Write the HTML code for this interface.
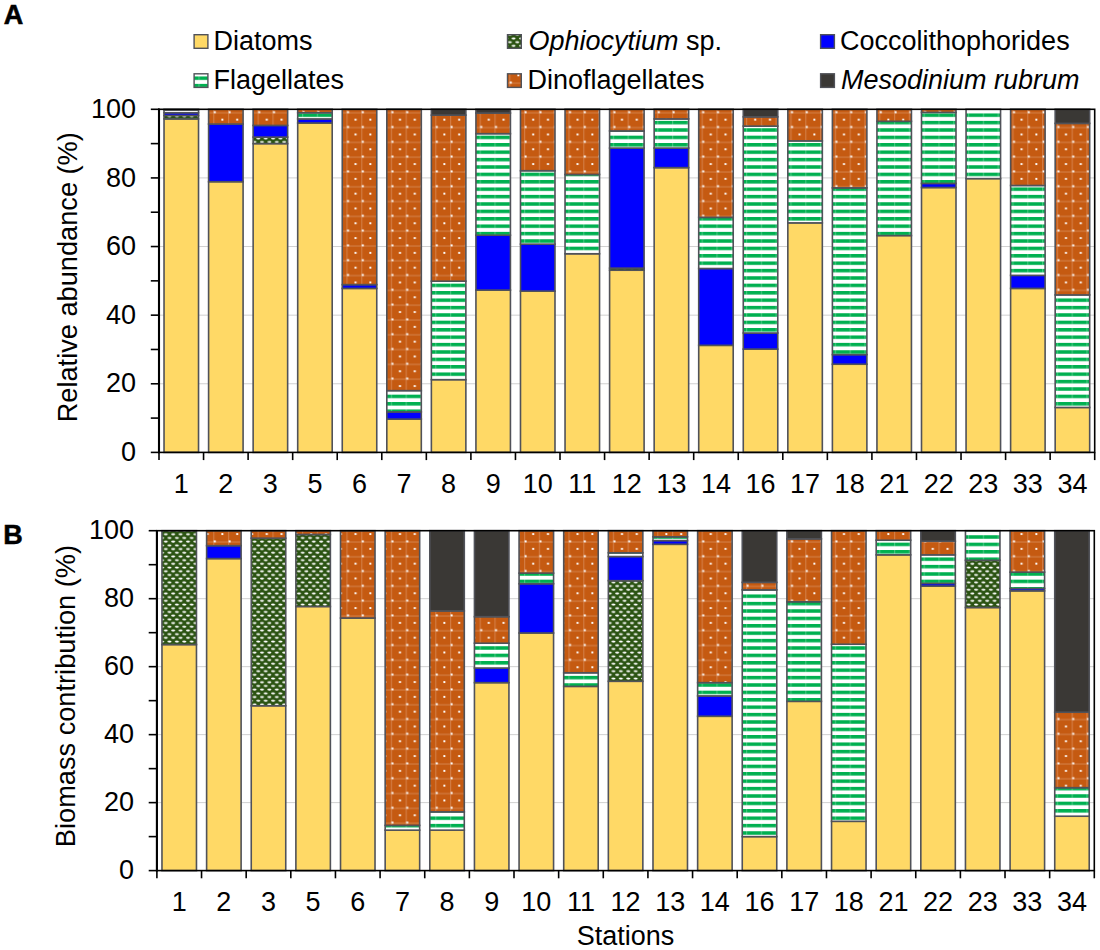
<!DOCTYPE html><html><head><meta charset="utf-8"><style>html,body{margin:0;padding:0;background:#fff;}svg{display:block;}</style></head><body>
<svg width="1100" height="950" viewBox="0 0 1100 950" font-family='"Liberation Sans", sans-serif' font-size="27" fill="#000">
<defs>
<pattern id="pDi" patternUnits="userSpaceOnUse" x="6.0" y="6.2" width="14.8" height="14.8"><rect width="14.8" height="14.8" fill="#C55A11"/><rect x="0" y="0" width="1.2" height="14.8" fill="#D27B42"/><rect x="0" y="2.4" width="14.8" height="1.2" fill="#D27B42"/><rect x="0.6" y="1.4" width="2" height="2" fill="#fff"/><rect x="8.2" y="8.8" width="2" height="2" rx="0.5" fill="#fff"/></pattern>
<pattern id="pF" patternUnits="userSpaceOnUse" x="6.0" y="2.45" width="14.8" height="7.4"><rect width="14.8" height="7.4" fill="#fff"/><rect y="0" width="14.8" height="3.5" fill="#00B050"/><rect x="0" y="0" width="1.2" height="3.5" fill="#fff" fill-opacity="0.25"/></pattern>
<pattern id="pO" patternUnits="userSpaceOnUse" x="0" y="0" width="7.4" height="7.4"><rect width="7.4" height="7.4" fill="#2B5312"/><ellipse cx="3.0" cy="1.5" rx="2.05" ry="0.95" fill="#fff"/><ellipse cx="6.7" cy="5.2" rx="2.05" ry="0.95" fill="#fff"/><ellipse cx="-0.7" cy="5.2" rx="2.05" ry="0.95" fill="#fff"/></pattern>
</defs>
<line x1="159" y1="383.78" x2="1094.7" y2="383.78" stroke="#D0D0D0" stroke-width="1"/>
<line x1="159" y1="315.16" x2="1094.7" y2="315.16" stroke="#D0D0D0" stroke-width="1"/>
<line x1="159" y1="246.54" x2="1094.7" y2="246.54" stroke="#D0D0D0" stroke-width="1"/>
<line x1="159" y1="177.92" x2="1094.7" y2="177.92" stroke="#D0D0D0" stroke-width="1"/>
<rect x="164.03" y="118.91" width="34.5" height="333.49" fill="#FFD966" stroke="#505259" stroke-width="1.6"/>
<rect x="164.03" y="115.48" width="34.5" height="3.43" fill="url(#pO)" stroke="#505259" stroke-width="1.6"/>
<rect x="164.03" y="112.73" width="34.5" height="2.74" fill="#0000FF" stroke="#505259" stroke-width="1.6"/>
<rect x="164.03" y="109.99" width="34.5" height="2.74" fill="url(#pF)" stroke="#505259" stroke-width="1.6"/>
<rect x="164.03" y="109.3" width="34.5" height="0.69" fill="#3A3835" stroke="#505259" stroke-width="1.6"/>
<rect x="208.59" y="181.69" width="34.5" height="270.71" fill="#FFD966" stroke="#505259" stroke-width="1.6"/>
<rect x="208.59" y="124.05" width="34.5" height="57.64" fill="#0000FF" stroke="#505259" stroke-width="1.6"/>
<rect x="208.59" y="109.3" width="34.5" height="14.75" fill="url(#pDi)" stroke="#505259" stroke-width="1.6"/>
<rect x="253.14" y="143.61" width="34.5" height="308.79" fill="#FFD966" stroke="#505259" stroke-width="1.6"/>
<rect x="253.14" y="137.09" width="34.5" height="6.52" fill="url(#pO)" stroke="#505259" stroke-width="1.6"/>
<rect x="253.14" y="125.43" width="34.5" height="11.67" fill="#0000FF" stroke="#505259" stroke-width="1.6"/>
<rect x="253.14" y="109.3" width="34.5" height="16.13" fill="url(#pDi)" stroke="#505259" stroke-width="1.6"/>
<rect x="297.7" y="123.02" width="34.5" height="329.38" fill="#FFD966" stroke="#505259" stroke-width="1.6"/>
<rect x="297.7" y="118.91" width="34.5" height="4.12" fill="#0000FF" stroke="#505259" stroke-width="1.6"/>
<rect x="297.7" y="112.73" width="34.5" height="6.18" fill="url(#pF)" stroke="#505259" stroke-width="1.6"/>
<rect x="297.7" y="109.3" width="34.5" height="3.43" fill="url(#pDi)" stroke="#505259" stroke-width="1.6"/>
<rect x="342.26" y="288.4" width="34.5" height="164" fill="#FFD966" stroke="#505259" stroke-width="1.6"/>
<rect x="342.26" y="284.62" width="34.5" height="3.77" fill="#0000FF" stroke="#505259" stroke-width="1.6"/>
<rect x="342.26" y="109.3" width="34.5" height="175.32" fill="url(#pDi)" stroke="#505259" stroke-width="1.6"/>
<rect x="386.81" y="419.12" width="34.5" height="33.28" fill="#FFD966" stroke="#505259" stroke-width="1.6"/>
<rect x="386.81" y="411.91" width="34.5" height="7.21" fill="#0000FF" stroke="#505259" stroke-width="1.6"/>
<rect x="386.81" y="390.64" width="34.5" height="21.27" fill="url(#pF)" stroke="#505259" stroke-width="1.6"/>
<rect x="386.81" y="109.3" width="34.5" height="281.34" fill="url(#pDi)" stroke="#505259" stroke-width="1.6"/>
<rect x="431.37" y="379.66" width="34.5" height="72.74" fill="#FFD966" stroke="#505259" stroke-width="1.6"/>
<rect x="431.37" y="281.19" width="34.5" height="98.47" fill="url(#pF)" stroke="#505259" stroke-width="1.6"/>
<rect x="431.37" y="115.13" width="34.5" height="166.06" fill="url(#pDi)" stroke="#505259" stroke-width="1.6"/>
<rect x="431.37" y="109.3" width="34.5" height="5.83" fill="#3A3835" stroke="#505259" stroke-width="1.6"/>
<rect x="475.93" y="290.11" width="34.5" height="162.29" fill="#FFD966" stroke="#505259" stroke-width="1.6"/>
<rect x="475.93" y="235.22" width="34.5" height="54.9" fill="#0000FF" stroke="#505259" stroke-width="1.6"/>
<rect x="475.93" y="133.66" width="34.5" height="101.56" fill="url(#pF)" stroke="#505259" stroke-width="1.6"/>
<rect x="475.93" y="113.07" width="34.5" height="20.59" fill="url(#pDi)" stroke="#505259" stroke-width="1.6"/>
<rect x="475.93" y="109.3" width="34.5" height="3.77" fill="#3A3835" stroke="#505259" stroke-width="1.6"/>
<rect x="520.49" y="291.14" width="34.5" height="161.26" fill="#FFD966" stroke="#505259" stroke-width="1.6"/>
<rect x="520.49" y="244.14" width="34.5" height="47" fill="#0000FF" stroke="#505259" stroke-width="1.6"/>
<rect x="520.49" y="170.71" width="34.5" height="73.42" fill="url(#pF)" stroke="#505259" stroke-width="1.6"/>
<rect x="520.49" y="109.3" width="34.5" height="61.41" fill="url(#pDi)" stroke="#505259" stroke-width="1.6"/>
<rect x="565.04" y="253.75" width="34.5" height="198.65" fill="#FFD966" stroke="#505259" stroke-width="1.6"/>
<rect x="565.04" y="174.49" width="34.5" height="79.26" fill="url(#pF)" stroke="#505259" stroke-width="1.6"/>
<rect x="565.04" y="109.3" width="34.5" height="65.19" fill="url(#pDi)" stroke="#505259" stroke-width="1.6"/>
<rect x="609.6" y="270.21" width="34.5" height="182.19" fill="#FFD966" stroke="#505259" stroke-width="1.6"/>
<rect x="609.6" y="268.16" width="34.5" height="2.06" fill="url(#pO)" stroke="#505259" stroke-width="1.6"/>
<rect x="609.6" y="148.07" width="34.5" height="120.09" fill="#0000FF" stroke="#505259" stroke-width="1.6"/>
<rect x="609.6" y="130.92" width="34.5" height="17.15" fill="url(#pF)" stroke="#505259" stroke-width="1.6"/>
<rect x="609.6" y="109.3" width="34.5" height="21.62" fill="url(#pDi)" stroke="#505259" stroke-width="1.6"/>
<rect x="654.16" y="167.63" width="34.5" height="284.77" fill="#FFD966" stroke="#505259" stroke-width="1.6"/>
<rect x="654.16" y="148.07" width="34.5" height="19.56" fill="#0000FF" stroke="#505259" stroke-width="1.6"/>
<rect x="654.16" y="118.91" width="34.5" height="29.16" fill="url(#pF)" stroke="#505259" stroke-width="1.6"/>
<rect x="654.16" y="109.3" width="34.5" height="9.61" fill="url(#pDi)" stroke="#505259" stroke-width="1.6"/>
<rect x="698.71" y="345.35" width="34.5" height="107.05" fill="#FFD966" stroke="#505259" stroke-width="1.6"/>
<rect x="698.71" y="268.5" width="34.5" height="76.85" fill="#0000FF" stroke="#505259" stroke-width="1.6"/>
<rect x="698.71" y="217.38" width="34.5" height="51.12" fill="url(#pF)" stroke="#505259" stroke-width="1.6"/>
<rect x="698.71" y="109.3" width="34.5" height="108.08" fill="url(#pDi)" stroke="#505259" stroke-width="1.6"/>
<rect x="743.27" y="349.13" width="34.5" height="103.27" fill="#FFD966" stroke="#505259" stroke-width="1.6"/>
<rect x="743.27" y="333" width="34.5" height="16.13" fill="#0000FF" stroke="#505259" stroke-width="1.6"/>
<rect x="743.27" y="126.11" width="34.5" height="206.89" fill="url(#pF)" stroke="#505259" stroke-width="1.6"/>
<rect x="743.27" y="116.85" width="34.5" height="9.26" fill="url(#pDi)" stroke="#505259" stroke-width="1.6"/>
<rect x="743.27" y="109.3" width="34.5" height="7.55" fill="#3A3835" stroke="#505259" stroke-width="1.6"/>
<rect x="787.83" y="222.87" width="34.5" height="229.53" fill="#FFD966" stroke="#505259" stroke-width="1.6"/>
<rect x="787.83" y="140.87" width="34.5" height="82" fill="url(#pF)" stroke="#505259" stroke-width="1.6"/>
<rect x="787.83" y="109.3" width="34.5" height="31.57" fill="url(#pDi)" stroke="#505259" stroke-width="1.6"/>
<rect x="832.39" y="364.22" width="34.5" height="88.18" fill="#FFD966" stroke="#505259" stroke-width="1.6"/>
<rect x="832.39" y="354.62" width="34.5" height="9.61" fill="#0000FF" stroke="#505259" stroke-width="1.6"/>
<rect x="832.39" y="187.87" width="34.5" height="166.75" fill="url(#pF)" stroke="#505259" stroke-width="1.6"/>
<rect x="832.39" y="109.3" width="34.5" height="78.57" fill="url(#pDi)" stroke="#505259" stroke-width="1.6"/>
<rect x="876.94" y="235.56" width="34.5" height="216.84" fill="#FFD966" stroke="#505259" stroke-width="1.6"/>
<rect x="876.94" y="121.31" width="34.5" height="114.25" fill="url(#pF)" stroke="#505259" stroke-width="1.6"/>
<rect x="876.94" y="109.3" width="34.5" height="12.01" fill="url(#pDi)" stroke="#505259" stroke-width="1.6"/>
<rect x="921.5" y="187.53" width="34.5" height="264.87" fill="#FFD966" stroke="#505259" stroke-width="1.6"/>
<rect x="921.5" y="183.41" width="34.5" height="4.12" fill="#0000FF" stroke="#505259" stroke-width="1.6"/>
<rect x="921.5" y="112.39" width="34.5" height="71.02" fill="url(#pF)" stroke="#505259" stroke-width="1.6"/>
<rect x="921.5" y="109.3" width="34.5" height="3.09" fill="url(#pDi)" stroke="#505259" stroke-width="1.6"/>
<rect x="966.06" y="178.61" width="34.5" height="273.79" fill="#FFD966" stroke="#505259" stroke-width="1.6"/>
<rect x="966.06" y="109.3" width="34.5" height="69.31" fill="url(#pF)" stroke="#505259" stroke-width="1.6"/>
<rect x="1010.61" y="288.4" width="34.5" height="164" fill="#FFD966" stroke="#505259" stroke-width="1.6"/>
<rect x="1010.61" y="275.36" width="34.5" height="13.04" fill="#0000FF" stroke="#505259" stroke-width="1.6"/>
<rect x="1010.61" y="185.47" width="34.5" height="89.89" fill="url(#pF)" stroke="#505259" stroke-width="1.6"/>
<rect x="1010.61" y="109.3" width="34.5" height="76.17" fill="url(#pDi)" stroke="#505259" stroke-width="1.6"/>
<rect x="1055.17" y="407.45" width="34.5" height="44.95" fill="#FFD966" stroke="#505259" stroke-width="1.6"/>
<rect x="1055.17" y="294.92" width="34.5" height="112.54" fill="url(#pF)" stroke="#505259" stroke-width="1.6"/>
<rect x="1055.17" y="123.37" width="34.5" height="171.55" fill="url(#pDi)" stroke="#505259" stroke-width="1.6"/>
<rect x="1055.17" y="109.3" width="34.5" height="14.07" fill="#3A3835" stroke="#505259" stroke-width="1.6"/>
<rect x="159" y="109.3" width="935.7" height="343.1" fill="none" stroke="#000" stroke-width="1.6"/>
<line x1="159" y1="108.5" x2="159" y2="453.2" stroke="#000" stroke-width="2.1"/>
<line x1="150.8" y1="452.4" x2="159" y2="452.4" stroke="#000" stroke-width="1.6"/>
<line x1="150.8" y1="418.09" x2="159" y2="418.09" stroke="#000" stroke-width="1.6"/>
<line x1="150.8" y1="383.78" x2="159" y2="383.78" stroke="#000" stroke-width="1.6"/>
<line x1="150.8" y1="349.47" x2="159" y2="349.47" stroke="#000" stroke-width="1.6"/>
<line x1="150.8" y1="315.16" x2="159" y2="315.16" stroke="#000" stroke-width="1.6"/>
<line x1="150.8" y1="280.85" x2="159" y2="280.85" stroke="#000" stroke-width="1.6"/>
<line x1="150.8" y1="246.54" x2="159" y2="246.54" stroke="#000" stroke-width="1.6"/>
<line x1="150.8" y1="212.23" x2="159" y2="212.23" stroke="#000" stroke-width="1.6"/>
<line x1="150.8" y1="177.92" x2="159" y2="177.92" stroke="#000" stroke-width="1.6"/>
<line x1="150.8" y1="143.61" x2="159" y2="143.61" stroke="#000" stroke-width="1.6"/>
<line x1="150.8" y1="109.3" x2="159" y2="109.3" stroke="#000" stroke-width="1.6"/>
<line x1="159" y1="452.4" x2="159" y2="460.1" stroke="#000" stroke-width="1.6"/>
<line x1="203.56" y1="452.4" x2="203.56" y2="460.1" stroke="#000" stroke-width="1.6"/>
<line x1="248.11" y1="452.4" x2="248.11" y2="460.1" stroke="#000" stroke-width="1.6"/>
<line x1="292.67" y1="452.4" x2="292.67" y2="460.1" stroke="#000" stroke-width="1.6"/>
<line x1="337.23" y1="452.4" x2="337.23" y2="460.1" stroke="#000" stroke-width="1.6"/>
<line x1="381.79" y1="452.4" x2="381.79" y2="460.1" stroke="#000" stroke-width="1.6"/>
<line x1="426.34" y1="452.4" x2="426.34" y2="460.1" stroke="#000" stroke-width="1.6"/>
<line x1="470.9" y1="452.4" x2="470.9" y2="460.1" stroke="#000" stroke-width="1.6"/>
<line x1="515.46" y1="452.4" x2="515.46" y2="460.1" stroke="#000" stroke-width="1.6"/>
<line x1="560.01" y1="452.4" x2="560.01" y2="460.1" stroke="#000" stroke-width="1.6"/>
<line x1="604.57" y1="452.4" x2="604.57" y2="460.1" stroke="#000" stroke-width="1.6"/>
<line x1="649.13" y1="452.4" x2="649.13" y2="460.1" stroke="#000" stroke-width="1.6"/>
<line x1="693.69" y1="452.4" x2="693.69" y2="460.1" stroke="#000" stroke-width="1.6"/>
<line x1="738.24" y1="452.4" x2="738.24" y2="460.1" stroke="#000" stroke-width="1.6"/>
<line x1="782.8" y1="452.4" x2="782.8" y2="460.1" stroke="#000" stroke-width="1.6"/>
<line x1="827.36" y1="452.4" x2="827.36" y2="460.1" stroke="#000" stroke-width="1.6"/>
<line x1="871.91" y1="452.4" x2="871.91" y2="460.1" stroke="#000" stroke-width="1.6"/>
<line x1="916.47" y1="452.4" x2="916.47" y2="460.1" stroke="#000" stroke-width="1.6"/>
<line x1="961.03" y1="452.4" x2="961.03" y2="460.1" stroke="#000" stroke-width="1.6"/>
<line x1="1005.59" y1="452.4" x2="1005.59" y2="460.1" stroke="#000" stroke-width="1.6"/>
<line x1="1050.14" y1="452.4" x2="1050.14" y2="460.1" stroke="#000" stroke-width="1.6"/>
<line x1="1094.7" y1="452.4" x2="1094.7" y2="460.1" stroke="#000" stroke-width="1.6"/>
<text x="136.1" y="461.1" text-anchor="end">0</text>
<text x="136.1" y="392.48" text-anchor="end">20</text>
<text x="136.1" y="323.86" text-anchor="end">40</text>
<text x="136.1" y="255.24" text-anchor="end">60</text>
<text x="136.1" y="186.62" text-anchor="end">80</text>
<text x="136.1" y="118" text-anchor="end">100</text>
<text x="181.28" y="493" text-anchor="middle">1</text>
<text x="225.84" y="493" text-anchor="middle">2</text>
<text x="270.39" y="493" text-anchor="middle">3</text>
<text x="314.95" y="493" text-anchor="middle">5</text>
<text x="359.51" y="493" text-anchor="middle">6</text>
<text x="404.06" y="493" text-anchor="middle">7</text>
<text x="448.62" y="493" text-anchor="middle">8</text>
<text x="493.18" y="493" text-anchor="middle">9</text>
<text x="537.74" y="493" text-anchor="middle">10</text>
<text x="582.29" y="493" text-anchor="middle">11</text>
<text x="626.85" y="493" text-anchor="middle">12</text>
<text x="671.41" y="493" text-anchor="middle">13</text>
<text x="715.96" y="493" text-anchor="middle">14</text>
<text x="760.52" y="493" text-anchor="middle">16</text>
<text x="805.08" y="493" text-anchor="middle">17</text>
<text x="849.64" y="493" text-anchor="middle">18</text>
<text x="894.19" y="493" text-anchor="middle">21</text>
<text x="938.75" y="493" text-anchor="middle">22</text>
<text x="983.31" y="493" text-anchor="middle">23</text>
<text x="1027.86" y="493" text-anchor="middle">33</text>
<text x="1072.42" y="493" text-anchor="middle">34</text>
<text transform="translate(77,277.25) rotate(-90)" text-anchor="middle" font-size="27.2">Relative abundance (%)</text>
<line x1="156.9" y1="802.62" x2="1094.3" y2="802.62" stroke="#D0D0D0" stroke-width="1"/>
<line x1="156.9" y1="734.64" x2="1094.3" y2="734.64" stroke="#D0D0D0" stroke-width="1"/>
<line x1="156.9" y1="666.66" x2="1094.3" y2="666.66" stroke="#D0D0D0" stroke-width="1"/>
<line x1="156.9" y1="598.68" x2="1094.3" y2="598.68" stroke="#D0D0D0" stroke-width="1"/>
<rect x="161.97" y="644.57" width="34.5" height="226.03" fill="#FFD966" stroke="#505259" stroke-width="1.6"/>
<rect x="161.97" y="530.7" width="34.5" height="113.87" fill="url(#pO)" stroke="#505259" stroke-width="1.6"/>
<rect x="206.61" y="558.57" width="34.5" height="312.03" fill="#FFD966" stroke="#505259" stroke-width="1.6"/>
<rect x="206.61" y="545.66" width="34.5" height="12.92" fill="#0000FF" stroke="#505259" stroke-width="1.6"/>
<rect x="206.61" y="530.7" width="34.5" height="14.96" fill="url(#pDi)" stroke="#505259" stroke-width="1.6"/>
<rect x="251.25" y="705.75" width="34.5" height="164.85" fill="#FFD966" stroke="#505259" stroke-width="1.6"/>
<rect x="251.25" y="538.18" width="34.5" height="167.57" fill="url(#pO)" stroke="#505259" stroke-width="1.6"/>
<rect x="251.25" y="530.7" width="34.5" height="7.48" fill="url(#pDi)" stroke="#505259" stroke-width="1.6"/>
<rect x="295.88" y="606.5" width="34.5" height="264.1" fill="#FFD966" stroke="#505259" stroke-width="1.6"/>
<rect x="295.88" y="534.44" width="34.5" height="72.06" fill="url(#pO)" stroke="#505259" stroke-width="1.6"/>
<rect x="295.88" y="530.7" width="34.5" height="3.74" fill="url(#pDi)" stroke="#505259" stroke-width="1.6"/>
<rect x="340.52" y="618.05" width="34.5" height="252.55" fill="#FFD966" stroke="#505259" stroke-width="1.6"/>
<rect x="340.52" y="530.7" width="34.5" height="87.35" fill="url(#pDi)" stroke="#505259" stroke-width="1.6"/>
<rect x="385.16" y="830.15" width="34.5" height="40.45" fill="#FFD966" stroke="#505259" stroke-width="1.6"/>
<rect x="385.16" y="825.39" width="34.5" height="4.76" fill="url(#pF)" stroke="#505259" stroke-width="1.6"/>
<rect x="385.16" y="530.7" width="34.5" height="294.69" fill="url(#pDi)" stroke="#505259" stroke-width="1.6"/>
<rect x="429.8" y="830.15" width="34.5" height="40.45" fill="#FFD966" stroke="#505259" stroke-width="1.6"/>
<rect x="429.8" y="811.8" width="34.5" height="18.35" fill="url(#pF)" stroke="#505259" stroke-width="1.6"/>
<rect x="429.8" y="610.92" width="34.5" height="200.88" fill="url(#pDi)" stroke="#505259" stroke-width="1.6"/>
<rect x="429.8" y="530.7" width="34.5" height="80.22" fill="#3A3835" stroke="#505259" stroke-width="1.6"/>
<rect x="474.44" y="682.64" width="34.5" height="187.96" fill="#FFD966" stroke="#505259" stroke-width="1.6"/>
<rect x="474.44" y="668.02" width="34.5" height="14.62" fill="#0000FF" stroke="#505259" stroke-width="1.6"/>
<rect x="474.44" y="643.21" width="34.5" height="24.81" fill="url(#pF)" stroke="#505259" stroke-width="1.6"/>
<rect x="474.44" y="616.69" width="34.5" height="26.51" fill="url(#pDi)" stroke="#505259" stroke-width="1.6"/>
<rect x="474.44" y="530.7" width="34.5" height="85.99" fill="#3A3835" stroke="#505259" stroke-width="1.6"/>
<rect x="519.07" y="633.01" width="34.5" height="237.59" fill="#FFD966" stroke="#505259" stroke-width="1.6"/>
<rect x="519.07" y="583.72" width="34.5" height="49.29" fill="#0000FF" stroke="#505259" stroke-width="1.6"/>
<rect x="519.07" y="573.19" width="34.5" height="10.54" fill="url(#pF)" stroke="#505259" stroke-width="1.6"/>
<rect x="519.07" y="530.7" width="34.5" height="42.49" fill="url(#pDi)" stroke="#505259" stroke-width="1.6"/>
<rect x="563.71" y="686.37" width="34.5" height="184.23" fill="#FFD966" stroke="#505259" stroke-width="1.6"/>
<rect x="563.71" y="672.78" width="34.5" height="13.6" fill="url(#pF)" stroke="#505259" stroke-width="1.6"/>
<rect x="563.71" y="530.7" width="34.5" height="142.08" fill="url(#pDi)" stroke="#505259" stroke-width="1.6"/>
<rect x="608.35" y="681.28" width="34.5" height="189.32" fill="#FFD966" stroke="#505259" stroke-width="1.6"/>
<rect x="608.35" y="580.67" width="34.5" height="100.61" fill="url(#pO)" stroke="#505259" stroke-width="1.6"/>
<rect x="608.35" y="556.53" width="34.5" height="24.13" fill="#0000FF" stroke="#505259" stroke-width="1.6"/>
<rect x="608.35" y="552.79" width="34.5" height="3.74" fill="url(#pF)" stroke="#505259" stroke-width="1.6"/>
<rect x="608.35" y="530.7" width="34.5" height="22.09" fill="url(#pDi)" stroke="#505259" stroke-width="1.6"/>
<rect x="652.99" y="544.3" width="34.5" height="326.3" fill="#FFD966" stroke="#505259" stroke-width="1.6"/>
<rect x="652.99" y="540.56" width="34.5" height="3.74" fill="#0000FF" stroke="#505259" stroke-width="1.6"/>
<rect x="652.99" y="536.82" width="34.5" height="3.74" fill="url(#pF)" stroke="#505259" stroke-width="1.6"/>
<rect x="652.99" y="530.7" width="34.5" height="6.12" fill="url(#pDi)" stroke="#505259" stroke-width="1.6"/>
<rect x="697.63" y="716.29" width="34.5" height="154.31" fill="#FFD966" stroke="#505259" stroke-width="1.6"/>
<rect x="697.63" y="695.89" width="34.5" height="20.39" fill="#0000FF" stroke="#505259" stroke-width="1.6"/>
<rect x="697.63" y="682.64" width="34.5" height="13.26" fill="url(#pF)" stroke="#505259" stroke-width="1.6"/>
<rect x="697.63" y="530.7" width="34.5" height="151.94" fill="url(#pDi)" stroke="#505259" stroke-width="1.6"/>
<rect x="742.26" y="836.61" width="34.5" height="33.99" fill="#FFD966" stroke="#505259" stroke-width="1.6"/>
<rect x="742.26" y="589.84" width="34.5" height="246.77" fill="url(#pF)" stroke="#505259" stroke-width="1.6"/>
<rect x="742.26" y="582.36" width="34.5" height="7.48" fill="url(#pDi)" stroke="#505259" stroke-width="1.6"/>
<rect x="742.26" y="530.7" width="34.5" height="51.66" fill="#3A3835" stroke="#505259" stroke-width="1.6"/>
<rect x="786.9" y="701.33" width="34.5" height="169.27" fill="#FFD966" stroke="#505259" stroke-width="1.6"/>
<rect x="786.9" y="601.74" width="34.5" height="99.59" fill="url(#pF)" stroke="#505259" stroke-width="1.6"/>
<rect x="786.9" y="538.86" width="34.5" height="62.88" fill="url(#pDi)" stroke="#505259" stroke-width="1.6"/>
<rect x="786.9" y="530.7" width="34.5" height="8.16" fill="#3A3835" stroke="#505259" stroke-width="1.6"/>
<rect x="831.54" y="821.31" width="34.5" height="49.29" fill="#FFD966" stroke="#505259" stroke-width="1.6"/>
<rect x="831.54" y="644.23" width="34.5" height="177.09" fill="url(#pF)" stroke="#505259" stroke-width="1.6"/>
<rect x="831.54" y="530.7" width="34.5" height="113.53" fill="url(#pDi)" stroke="#505259" stroke-width="1.6"/>
<rect x="876.18" y="554.83" width="34.5" height="315.77" fill="#FFD966" stroke="#505259" stroke-width="1.6"/>
<rect x="876.18" y="540.22" width="34.5" height="14.62" fill="url(#pF)" stroke="#505259" stroke-width="1.6"/>
<rect x="876.18" y="530.7" width="34.5" height="9.52" fill="url(#pDi)" stroke="#505259" stroke-width="1.6"/>
<rect x="920.82" y="586.1" width="34.5" height="284.5" fill="#FFD966" stroke="#505259" stroke-width="1.6"/>
<rect x="920.82" y="583.38" width="34.5" height="2.72" fill="#0000FF" stroke="#505259" stroke-width="1.6"/>
<rect x="920.82" y="554.83" width="34.5" height="28.55" fill="url(#pF)" stroke="#505259" stroke-width="1.6"/>
<rect x="920.82" y="541.24" width="34.5" height="13.6" fill="url(#pDi)" stroke="#505259" stroke-width="1.6"/>
<rect x="920.82" y="530.7" width="34.5" height="10.54" fill="#3A3835" stroke="#505259" stroke-width="1.6"/>
<rect x="965.45" y="607.52" width="34.5" height="263.08" fill="#FFD966" stroke="#505259" stroke-width="1.6"/>
<rect x="965.45" y="560.27" width="34.5" height="47.25" fill="url(#pO)" stroke="#505259" stroke-width="1.6"/>
<rect x="965.45" y="530.7" width="34.5" height="29.57" fill="url(#pF)" stroke="#505259" stroke-width="1.6"/>
<rect x="1010.09" y="590.86" width="34.5" height="279.74" fill="#FFD966" stroke="#505259" stroke-width="1.6"/>
<rect x="1010.09" y="588.48" width="34.5" height="2.38" fill="#0000FF" stroke="#505259" stroke-width="1.6"/>
<rect x="1010.09" y="572.17" width="34.5" height="16.32" fill="url(#pF)" stroke="#505259" stroke-width="1.6"/>
<rect x="1010.09" y="530.7" width="34.5" height="41.47" fill="url(#pDi)" stroke="#505259" stroke-width="1.6"/>
<rect x="1054.73" y="816.22" width="34.5" height="54.38" fill="#FFD966" stroke="#505259" stroke-width="1.6"/>
<rect x="1054.73" y="787.66" width="34.5" height="28.55" fill="url(#pF)" stroke="#505259" stroke-width="1.6"/>
<rect x="1054.73" y="712.21" width="34.5" height="75.46" fill="url(#pDi)" stroke="#505259" stroke-width="1.6"/>
<rect x="1054.73" y="530.7" width="34.5" height="181.51" fill="#3A3835" stroke="#505259" stroke-width="1.6"/>
<rect x="156.9" y="530.7" width="937.4" height="339.9" fill="none" stroke="#000" stroke-width="1.6"/>
<line x1="156.9" y1="529.9" x2="156.9" y2="871.4" stroke="#000" stroke-width="2.1"/>
<line x1="148.7" y1="870.6" x2="156.9" y2="870.6" stroke="#000" stroke-width="1.6"/>
<line x1="148.7" y1="836.61" x2="156.9" y2="836.61" stroke="#000" stroke-width="1.6"/>
<line x1="148.7" y1="802.62" x2="156.9" y2="802.62" stroke="#000" stroke-width="1.6"/>
<line x1="148.7" y1="768.63" x2="156.9" y2="768.63" stroke="#000" stroke-width="1.6"/>
<line x1="148.7" y1="734.64" x2="156.9" y2="734.64" stroke="#000" stroke-width="1.6"/>
<line x1="148.7" y1="700.65" x2="156.9" y2="700.65" stroke="#000" stroke-width="1.6"/>
<line x1="148.7" y1="666.66" x2="156.9" y2="666.66" stroke="#000" stroke-width="1.6"/>
<line x1="148.7" y1="632.67" x2="156.9" y2="632.67" stroke="#000" stroke-width="1.6"/>
<line x1="148.7" y1="598.68" x2="156.9" y2="598.68" stroke="#000" stroke-width="1.6"/>
<line x1="148.7" y1="564.69" x2="156.9" y2="564.69" stroke="#000" stroke-width="1.6"/>
<line x1="148.7" y1="530.7" x2="156.9" y2="530.7" stroke="#000" stroke-width="1.6"/>
<line x1="156.9" y1="870.6" x2="156.9" y2="878.3" stroke="#000" stroke-width="1.6"/>
<line x1="201.54" y1="870.6" x2="201.54" y2="878.3" stroke="#000" stroke-width="1.6"/>
<line x1="246.18" y1="870.6" x2="246.18" y2="878.3" stroke="#000" stroke-width="1.6"/>
<line x1="290.81" y1="870.6" x2="290.81" y2="878.3" stroke="#000" stroke-width="1.6"/>
<line x1="335.45" y1="870.6" x2="335.45" y2="878.3" stroke="#000" stroke-width="1.6"/>
<line x1="380.09" y1="870.6" x2="380.09" y2="878.3" stroke="#000" stroke-width="1.6"/>
<line x1="424.73" y1="870.6" x2="424.73" y2="878.3" stroke="#000" stroke-width="1.6"/>
<line x1="469.37" y1="870.6" x2="469.37" y2="878.3" stroke="#000" stroke-width="1.6"/>
<line x1="514" y1="870.6" x2="514" y2="878.3" stroke="#000" stroke-width="1.6"/>
<line x1="558.64" y1="870.6" x2="558.64" y2="878.3" stroke="#000" stroke-width="1.6"/>
<line x1="603.28" y1="870.6" x2="603.28" y2="878.3" stroke="#000" stroke-width="1.6"/>
<line x1="647.92" y1="870.6" x2="647.92" y2="878.3" stroke="#000" stroke-width="1.6"/>
<line x1="692.56" y1="870.6" x2="692.56" y2="878.3" stroke="#000" stroke-width="1.6"/>
<line x1="737.2" y1="870.6" x2="737.2" y2="878.3" stroke="#000" stroke-width="1.6"/>
<line x1="781.83" y1="870.6" x2="781.83" y2="878.3" stroke="#000" stroke-width="1.6"/>
<line x1="826.47" y1="870.6" x2="826.47" y2="878.3" stroke="#000" stroke-width="1.6"/>
<line x1="871.11" y1="870.6" x2="871.11" y2="878.3" stroke="#000" stroke-width="1.6"/>
<line x1="915.75" y1="870.6" x2="915.75" y2="878.3" stroke="#000" stroke-width="1.6"/>
<line x1="960.39" y1="870.6" x2="960.39" y2="878.3" stroke="#000" stroke-width="1.6"/>
<line x1="1005.02" y1="870.6" x2="1005.02" y2="878.3" stroke="#000" stroke-width="1.6"/>
<line x1="1049.66" y1="870.6" x2="1049.66" y2="878.3" stroke="#000" stroke-width="1.6"/>
<line x1="1094.3" y1="870.6" x2="1094.3" y2="878.3" stroke="#000" stroke-width="1.6"/>
<text x="134" y="879.3" text-anchor="end">0</text>
<text x="134" y="811.32" text-anchor="end">20</text>
<text x="134" y="743.34" text-anchor="end">40</text>
<text x="134" y="675.36" text-anchor="end">60</text>
<text x="134" y="607.38" text-anchor="end">80</text>
<text x="134" y="539.4" text-anchor="end">100</text>
<text x="179.22" y="911.2" text-anchor="middle">1</text>
<text x="223.86" y="911.2" text-anchor="middle">2</text>
<text x="268.5" y="911.2" text-anchor="middle">3</text>
<text x="313.13" y="911.2" text-anchor="middle">5</text>
<text x="357.77" y="911.2" text-anchor="middle">6</text>
<text x="402.41" y="911.2" text-anchor="middle">7</text>
<text x="447.05" y="911.2" text-anchor="middle">8</text>
<text x="491.69" y="911.2" text-anchor="middle">9</text>
<text x="536.32" y="911.2" text-anchor="middle">10</text>
<text x="580.96" y="911.2" text-anchor="middle">11</text>
<text x="625.6" y="911.2" text-anchor="middle">12</text>
<text x="670.24" y="911.2" text-anchor="middle">13</text>
<text x="714.88" y="911.2" text-anchor="middle">14</text>
<text x="759.51" y="911.2" text-anchor="middle">16</text>
<text x="804.15" y="911.2" text-anchor="middle">17</text>
<text x="848.79" y="911.2" text-anchor="middle">18</text>
<text x="893.43" y="911.2" text-anchor="middle">21</text>
<text x="938.07" y="911.2" text-anchor="middle">22</text>
<text x="982.7" y="911.2" text-anchor="middle">23</text>
<text x="1027.34" y="911.2" text-anchor="middle">33</text>
<text x="1071.98" y="911.2" text-anchor="middle">34</text>
<text transform="translate(74.9,696.05) rotate(-90)" text-anchor="middle" font-size="27.2">Biomass contribution (%)</text>
<text x="3.7" y="23.6" font-weight="bold" font-size="27" stroke="#000" stroke-width="0.6">A</text>
<text x="3.2" y="543.6" font-weight="bold" font-size="27" stroke="#000" stroke-width="0.5">B</text>
<text x="625.6" y="945" text-anchor="middle">Stations</text>
<rect x="194.1" y="34.7" width="13.8" height="13.6" fill="#FFD966" stroke="#505259" stroke-width="1.4"/>
<text x="213.5" y="50">Diatoms</text>
<rect x="194.1" y="73.8" width="13.8" height="13.6" fill="url(#pF)" stroke="#505259" stroke-width="1.4"/>
<text x="213.5" y="89">Flagellates</text>
<rect x="507.5" y="34.7" width="13.8" height="13.6" fill="url(#pO)" stroke="#505259" stroke-width="1.4"/>
<text x="528.5" y="50"><tspan font-style="italic">Ophiocytium</tspan> sp.</text>
<rect x="507.5" y="73.8" width="13.8" height="13.6" fill="url(#pDi)" stroke="#505259" stroke-width="1.4"/>
<text x="527.5" y="89">Dinoflagellates</text>
<rect x="820.6" y="34.7" width="13.8" height="13.6" fill="#0000FF" stroke="#505259" stroke-width="1.4"/>
<text x="840" y="50">Coccolithophorides</text>
<rect x="820.6" y="73.8" width="13.8" height="13.6" fill="#3A3835" stroke="#505259" stroke-width="1.4"/>
<text x="841" y="89" font-style="italic">Mesodinium rubrum</text>
</svg></body></html>
